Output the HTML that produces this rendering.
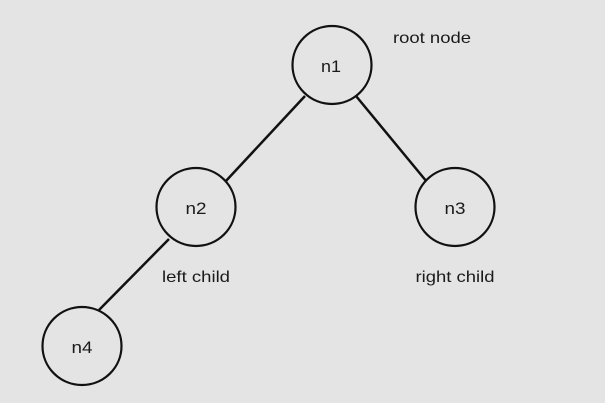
<!DOCTYPE html>
<html><head><style>
html,body{margin:0;padding:0;background:#e4e4e4;}
svg{display:block;}
text{font-family:"Liberation Sans",Arial,sans-serif;fill:#1a1a1a;}
</style></head><body>
<svg width="605" height="403" viewBox="0 0 605 403">
<rect width="605" height="403" fill="#e4e4e4"/>
<g stroke="#111" stroke-width="2.5" fill="none">
<line x1="305" y1="96" x2="225" y2="182"/>
<line x1="356" y1="96" x2="427" y2="182"/>
<line x1="169" y1="239" x2="99" y2="310"/>
</g>
<g stroke="#111" stroke-width="2.2" fill="#e4e4e4">
<ellipse cx="332" cy="65" rx="39.5" ry="39"/>
<ellipse cx="196" cy="207" rx="39.5" ry="39"/>
<ellipse cx="455" cy="207" rx="39.5" ry="39"/>
<ellipse cx="82" cy="346" rx="39.5" ry="39"/>
</g>
<g font-size="17" text-anchor="middle">
<text x="331" y="72" textLength="20" lengthAdjust="spacingAndGlyphs">n1</text>
<text x="196" y="214" textLength="21" lengthAdjust="spacingAndGlyphs">n2</text>
<text x="455" y="214" textLength="21" lengthAdjust="spacingAndGlyphs">n3</text>
<text x="82" y="353" textLength="21" lengthAdjust="spacingAndGlyphs">n4</text>
</g>
<g font-size="16" text-anchor="middle">
<text x="432" y="43" textLength="78" lengthAdjust="spacingAndGlyphs">root node</text>
<text x="196" y="282" textLength="68" lengthAdjust="spacingAndGlyphs">left child</text>
<text x="455" y="282" textLength="79" lengthAdjust="spacingAndGlyphs">right child</text>
</g>
</svg>
</body></html>
